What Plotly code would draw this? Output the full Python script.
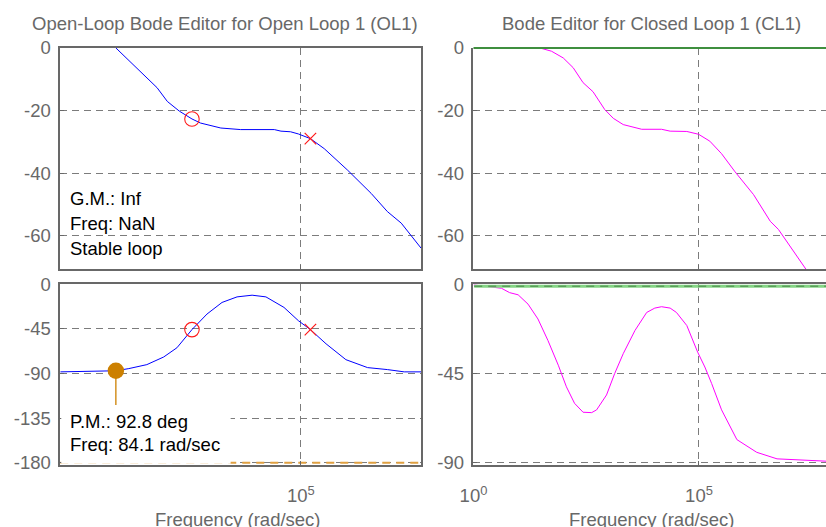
import plotly.graph_objects as go

# ---------------- data ----------------
# Open-loop magnitude (rad/s, dB)
ol_mag_freq = [10, 84.1, 407, 603, 955, 1549, 2138, 4677, 10000, 36300, 46800,
               67600, 91200, 144500, 245500, 602600, 1.48e6, 2.75e6, 4.68e6, 9.33e6, 1e7]
ol_mag_db = [18.5, 0.0, -12.7, -17.1, -20.2, -22.7, -24.0, -25.6, -26.1, -26.1, -26.6,
             -26.8, -27.5, -29.0, -32.2, -39.1, -46.5, -52.3, -56.0, -63.4, -64.0]

# Open-loop phase (rad/s, deg)
ol_ph_freq = [10, 67.6, 84.1, 138, 275, 525, 871, 1549, 2754, 4898, 8710, 15490,
              26300, 52480, 91200, 144500, 263000, 562300, 1.288e6, 2.754e6, 5.248e6, 1e7]
ol_ph_deg = [-88.3, -87.7, -87.2, -85.0, -81.0, -73.3, -64.0, -45.7, -30.0, -18.3, -12.7, -11.0,
             -12.7, -23.3, -36.7, -45.7, -60.0, -76.0, -84.0, -86.0, -88.3, -88.3]

# Closed-loop magnitude (rad/s, dB)
cl_mag_freq = [1, 10, 29.5, 53.7, 97.7, 162, 269, 447, 813, 1259, 2089, 5370, 14790,
               22910, 53700, 97720, 173800, 316200, 631000, 1.622e6, 3.802e6, 5.754e6,
               2.29e7, 3.98e7]
cl_mag_db = [0.0, 0.0, 0.0, -1.05, -3.2, -6.3, -11.1, -14.0, -19.7, -22.5, -24.5, -26.0, -26.0,
             -26.6, -26.7, -27.6, -29.8, -33.8, -39.6, -46.9, -55.4, -58.0,
             -70.7, -75.5]

# Closed-loop phase (rad/s, deg)
cl_ph_freq = [1, 2.09, 4.17, 6.31, 9.77, 16.2, 26.9, 44.7, 75.9, 115, 174, 269, 417, 537,
              891, 1349, 2089, 3802, 6918, 10470, 14790, 22910, 31620, 53700, 93330,
              134900, 190500, 316200, 691800, 1.905e6, 5.37e6, 6.92e7, 1e8]
cl_ph_deg = [-0.3, -1.0, -2.0, -4.2, -5.3, -10.0, -17.5, -28.3, -40.8, -51.7, -60.0, -64.5,
             -64.7, -63.3, -55.8, -45.0, -35.0, -23.3, -14.2, -12.0, -11.3, -12.0, -14.2,
             -20.8, -34.2, -41.7, -50.0, -63.3, -78.3, -84.7, -88.0, -89.2, -89.3]

# Compensator zero (o) and pole (x) locations
zero_freq, zero_mag, zero_ph = 1549, -22.7, -45.7
pole_freq, pole_mag, pole_ph = 144500, -29.0, -45.7

# Stability margins
pm_freq, pm_deg = 84.1, 92.8
pm_phase = -180 + pm_deg

mag_ticks = [0, -20, -40, -60]
mag_labels = ["0", "-20", "-40", "-60"]
ol_ph_ticks = [0, -45, -90, -135, -180]
ol_ph_labels = ["0", "-45", "-90", "-135", "-180"]
cl_ph_ticks = [0, -45, -90]
cl_ph_labels = ["0", "-45", "-90"]
freq_ticks = [1, 1e5]
freq_labels = ["10<sup>0</sup>", "10<sup>5</sup>"]

# ---------------- layout helpers ----------------
# Positions below are given in view pixels (826 x 527) and converted to
# paper fractions of a figure that sits inside the page body's 8 px margin.
VIEW_W, VIEW_H = 826, 527
OFF = 8
W, H = VIEW_W + OFF, VIEW_H + OFF
SX = VIEW_W / (VIEW_W + 2 * OFF)
SY = VIEW_H / (VIEW_H + 2 * OFF)
HX = 6

def px(x):
    return ((x - HX) / SX - OFF) / W

def py(y):
    return 1 - (y / SY - OFF) / H

FONT = "Liberation Sans, Arial, sans-serif"
FS = 18.5
GRAY = "#686868"
GRID = "#7c7c7c"
BLUE = "#0000ff"
MAG = "#ff00ff"
RED = "#ff1a1a"
ORANGE = "#cc8000"

fig = go.Figure()

# Open-loop magnitude
fig.add_trace(go.Scatter(x=ol_mag_freq, y=ol_mag_db, mode="lines",
                         line=dict(color=BLUE, width=1), xaxis="x", yaxis="y"))
fig.add_trace(go.Scatter(x=[zero_freq], y=[zero_mag], mode="markers",
                         marker=dict(symbol="circle-open", size=14.5, color=RED, line=dict(width=1.1)),
                         xaxis="x", yaxis="y"))
fig.add_trace(go.Scatter(x=[pole_freq], y=[pole_mag], mode="markers",
                         marker=dict(symbol="x-thin", size=11.5, color=RED, line=dict(width=1.2, color=RED)),
                         xaxis="x", yaxis="y"))

# Open-loop phase
fig.add_trace(go.Scatter(x=[10, 1e7], y=[-180, -180], mode="lines",
                         line=dict(color="#e0a040", width=2, dash="8px,6px"), xaxis="x2", yaxis="y2"))
fig.add_trace(go.Scatter(x=[pm_freq, pm_freq], y=[pm_phase, -180], mode="lines",
                         line=dict(color=ORANGE, width=1.3), xaxis="x2", yaxis="y2"))
fig.add_trace(go.Scatter(x=ol_ph_freq, y=ol_ph_deg, mode="lines",
                         line=dict(color=BLUE, width=1), xaxis="x2", yaxis="y2"))
fig.add_trace(go.Scatter(x=[pm_freq], y=[pm_phase], mode="markers",
                         marker=dict(symbol="circle", size=16.5, color=ORANGE),
                         xaxis="x2", yaxis="y2"))
fig.add_trace(go.Scatter(x=[zero_freq], y=[zero_ph], mode="markers",
                         marker=dict(symbol="circle-open", size=14.5, color=RED, line=dict(width=1.1)),
                         xaxis="x2", yaxis="y2"))
fig.add_trace(go.Scatter(x=[pole_freq], y=[pole_ph], mode="markers",
                         marker=dict(symbol="x-thin", size=11.5, color=RED, line=dict(width=1.2, color=RED)),
                         xaxis="x2", yaxis="y2"))

# Closed-loop magnitude and phase
fig.add_trace(go.Scatter(x=cl_mag_freq, y=cl_mag_db, mode="lines",
                         line=dict(color=MAG, width=1), xaxis="x3", yaxis="y3"))
fig.add_trace(go.Scatter(x=cl_ph_freq, y=cl_ph_deg, mode="lines",
                         line=dict(color=MAG, width=1), xaxis="x4", yaxis="y4"))

xl = [px(60), px(420)]
xr = [px(472.3), 1.0]
cl_right = (W + OFF) * SX + HX                # view x of the paper's right edge
cl_decades = (cl_right - 472.3) / 45.0        # 45 view px per decade
yt = [py(268), py(45)]
yb = [py(465), py(283.3)]

tickfont = dict(family=FONT, size=FS, color=GRAY)

def xaxis(domain, rng, anchor, labels, mirror=True):
    return dict(domain=domain, type="log", range=rng, anchor=anchor,
                tickvals=freq_ticks, ticktext=freq_labels, showticklabels=labels,
                showgrid=True, gridcolor=GRID, griddash="7px,5px", gridwidth=1,
                showline=True, linecolor=GRAY, linewidth=1.5, mirror=mirror,
                ticks="inside", ticklen=4, tickcolor=GRAY, ticklabelstandoff=14,
                tickfont=tickfont, zeroline=False)

def yaxis(domain, rng, anchor, vals, labels, mirror=True):
    return dict(domain=domain, range=rng, anchor=anchor,
                tickvals=vals, ticktext=labels,
                showgrid=True, gridcolor=GRID, griddash="7px,5px", gridwidth=1,
                showline=True, linecolor=GRAY, linewidth=1.5, mirror=mirror,
                ticks="inside", ticklen=4, tickcolor=GRAY, ticklabelstandoff=4,
                tickfont=tickfont, zeroline=False)

fig.update_layout(
    width=W, height=H, autosize=False,
    margin=dict(l=0, r=0, t=0, b=0),
    paper_bgcolor="white", plot_bgcolor="white",
    showlegend=False,
    font=dict(family=FONT, size=FS, color=GRAY),
    xaxis=xaxis(xl, [1.0, 7.0], "y", False),
    xaxis2=xaxis(xl, [1.0, 7.0], "y2", True),
    xaxis3=xaxis(xr, [0.0, cl_decades], "y3", False, mirror=False),
    xaxis4=xaxis(xr, [0.0, cl_decades], "y4", True),
    yaxis=yaxis(yt, [-70.7, 0], "x", mag_ticks, mag_labels),
    yaxis2=yaxis(yb, [-181.7, 0], "x2", ol_ph_ticks, ol_ph_labels),
    yaxis3=yaxis(yt, [-70.7, 0], "x3", mag_ticks, mag_labels, mirror=False),
    yaxis4=yaxis(yb, [-90.85, 0], "x4", cl_ph_ticks, cl_ph_labels, mirror=False),
)

shapes = [
    # white backing behind the phase-margin readout
    dict(type="rect", xref="paper", yref="paper", x0=px(61), x1=px(230), y0=py(464.2), y1=py(405),
         fillcolor="white", line=dict(width=0), layer="above"),
    # 0 dB reference on closed-loop magnitude
    dict(type="line", xref="paper", yref="paper", x0=xr[0], x1=1.0, y0=py(45), y1=py(45),
         line=dict(color="#3f8f3f", width=2), layer="above"),
    # 0 deg reference on closed-loop phase
    dict(type="line", xref="paper", yref="paper", x0=px(473), x1=1.0, y0=py(285.3), y1=py(285.3),
         line=dict(color="#86d686", width=3), layer="above"),
    dict(type="line", xref="paper", yref="paper", x0=px(473), x1=1.0, y0=py(285.3), y1=py(285.3),
         line=dict(color="#5a9e5a", width=1.5, dash="8px,6px"), layer="above"),
]
fig.update_layout(shapes=shapes)

ann_font = dict(family=FONT, size=FS, color="black")
title_font = dict(family=FONT, size=FS, color=GRAY)
annotations = [
    dict(text="Open-Loop Bode Editor for Open Loop 1 (OL1)", x=px(224), y=py(20),
         font=title_font),
    dict(text="Bode Editor for Closed Loop 1 (CL1)", x=px(650), y=py(20), font=title_font),
    dict(text="Frequency (rad/sec)", x=px(237), y=py(520), font=title_font),
    dict(text="Frequency (rad/sec)", x=px(650), y=py(520), font=title_font),
    dict(text="G.M.: Inf", x=px(68), y=py(197), xanchor="left", font=ann_font),
    dict(text="Freq: NaN", x=px(68), y=py(222), xanchor="left", font=ann_font),
    dict(text="Stable loop", x=px(68), y=py(247), xanchor="left", font=ann_font),
    dict(text="P.M.: %.1f deg" % pm_deg, x=px(68), y=py(422), xanchor="left", font=ann_font),
    dict(text="Freq: %.1f rad/sec" % pm_freq, x=px(68), y=py(445), xanchor="left", font=ann_font),
]
for a in annotations:
    a.setdefault("xanchor", "center")
    a.update(xref="paper", yref="paper", yanchor="middle", showarrow=False)
fig.update_layout(annotations=annotations)

fig.write_html("out.html")
